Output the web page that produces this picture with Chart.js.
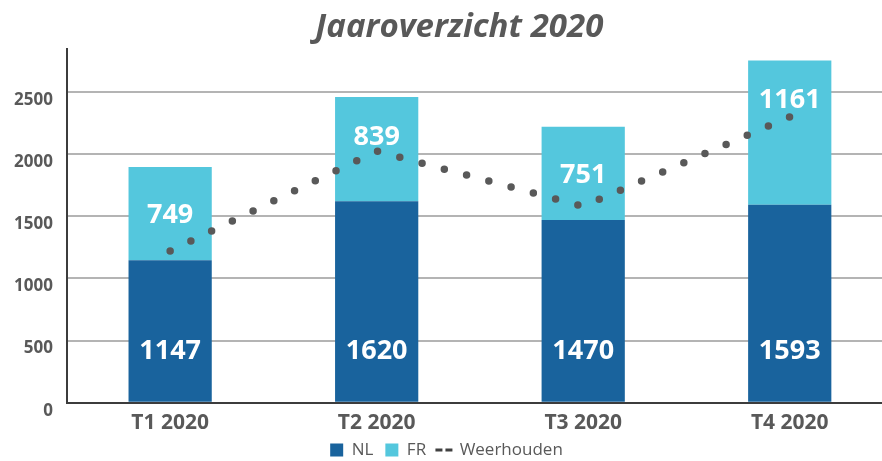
<!DOCTYPE html>
<html>
<head>
<meta charset="utf-8">
<script src="https://cdn.jsdelivr.net/npm/chart.js@4"></script>
<style>
  html, body { margin: 0; padding: 0; background: #fff; overflow: hidden; }
  #wrap { width: 882px; height: 461px; overflow: hidden; }
</style>
</head>
<body>
<div id="wrap"><canvas id="chart" width="904" height="470"></canvas></div>
<script>
// Chart data
const categories = ['T1 2020', 'T2 2020', 'T3 2020', 'T4 2020'];
const nlValues = [1147, 1620, 1470, 1593];          // dark blue, bottom of stack
const frValues = [749, 839, 751, 1161];             // light blue, top of stack
const weerhoudenValues = [1220, 2025, 1580, 2300];  // dotted line
const yTicks = [0, 500, 1000, 1500, 2000, 2500];
const yMax = 2845;

const grey = '#595959';
const font = 'Open Sans';

// White value labels inside the bars
const barLabels = {
    id: 'barLabels',
    afterDatasetsDraw(chart) {
        const ctx = chart.ctx;
        const base = chart.scales.y.getPixelForValue(0);
        ctx.save();
        ctx.font = `bold 27px "${font}"`;
        ctx.fillStyle = '#ffffff';
        ctx.textAlign = 'center';
        ctx.textBaseline = 'middle';
        chart.getDatasetMeta(0).data.forEach((bar, i) => {
            ctx.fillText(nlValues[i], bar.x, base - 51);   // inside base
        });
        chart.getDatasetMeta(1).data.forEach((bar, i) => {
            const h = bar.base - bar.y;
            const y = h < 100 ? bar.y + h / 2 : bar.y + 38;  // centre, or near the top for tall ones
            ctx.fillText(frValues[i], bar.x, y + 2);
        });
        ctx.restore();
    }
};

new Chart(document.getElementById('chart'), {
    type: 'bar',
    data: {
        labels: categories,
        datasets: [
            {
                label: 'NL',
                data: nlValues,
                backgroundColor: '#19639d',
                categoryPercentage: 1,
                barPercentage: 0.403
            },
            {
                label: 'FR',
                data: frValues,
                backgroundColor: '#54c7dd',
                categoryPercentage: 1,
                barPercentage: 0.403
            },
            {
                type: 'line',
                label: 'Weerhouden',
                data: weerhoudenValues,
                stack: 'weer',          // not stacked on the bars
                order: -1,              // drawn on top of the bars
                borderColor: '#595959',
                borderWidth: 7.5,
                borderDash: [0, 23.04], // round caps -> dots, one on each end
                borderCapStyle: 'round',
                tension: 0,
                fill: false,
                pointRadius: 0,
                pointHoverRadius: 0
            }
        ]
    },
    options: {
        responsive: false,
        animation: false,
        layout: {
            padding: { left: 0, right: 11, top: 0, bottom: 1.5 }
        },
        scales: {
            x: {
                stacked: true,
                ticks: {
                    color: grey,
                    font: { family: font, size: 21, weight: 'bold', lineHeight: 0.6 },
                    padding: 0
                },
                // invisible tick marks used as the gap under the axis
                grid: { display: true, drawOnChartArea: false, drawTicks: true, tickLength: 14.2, tickColor: 'rgba(0,0,0,0)' },
                border: { color: '#3c3c3c', width: 2 }
            },
            y: {
                stacked: true,
                min: 0,
                max: yMax,
                afterBuildTicks(axis) {
                    axis.ticks = yTicks.map(v => ({ value: v }));
                },
                ticks: {
                    color: grey,
                    font: { family: font, size: 17, weight: 'bold' },
                    padding: 14,
                    labelOffset: 8,
                    callback: v => String(v)
                },
                grid: { color: '#b4b4b4', lineWidth: 2, drawTicks: false },
                border: { color: '#3c3c3c', width: 2 }
            }
        },
        plugins: {
            title: {
                display: true,
                text: '   Jaaroverzicht 2020',   // leading spaces nudge it right like the original
                color: grey,
                font: { family: font, size: 33, weight: 'bold', style: 'italic', lineHeight: 1.2 },
                padding: { top: 8, bottom: 1.5 }
            },
            legend: {
                position: 'bottom',
                labels: {
                    usePointStyle: true,
                    boxWidth: 13,
                    boxHeight: 13,
                    padding: 12,
                    color: grey,
                    font: { family: font, size: 17 },
                    sort: (a, b) => a.datasetIndex - b.datasetIndex,
                    generateLabels(chart) {
                        const items = Chart.defaults.plugins.legend.labels.generateLabels(chart);
                        items.forEach(item => {
                            if (item.datasetIndex === 2) {
                                item.pointStyle = 'line';
                                item.lineWidth = 3;
                                item.lineDash = [7, 3];
                                item.lineCap = 'butt';
                                item.strokeStyle = '#404040';
                            } else {
                                item.pointStyle = 'rect';
                            }
                        });
                        return items;
                    }
                }
            },
            tooltip: { enabled: false }
        }
    },
    plugins: [barLabels]
});
</script>
</body>
</html>
